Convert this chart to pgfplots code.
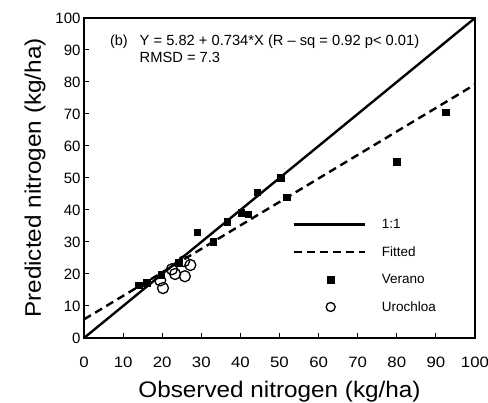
\documentclass[border=0pt]{standalone}
\usepackage{fontspec}
\setmainfont{Liberation Sans}
\newfontfamily\xtickfont{Liberation Sans}[FakeStretch=1.12]
\newfontfamily\labfont{Liberation Sans}[FakeStretch=1.08]
\usepackage{pgfplots}
\pgfplotsset{compat=1.18}
\pgfplotsset{
  lineleg/.style={legend image code/.code={\draw[##1] (0pt,0pt) -- (71pt,0pt);}},
  markleg/.style={legend image code/.code={\draw[##1] plot coordinates {(37pt,0pt)};}},
  circleg/.style={legend image code/.code={\draw[##1, mark size=4.5pt] plot coordinates {(37pt,0pt)};}},
}
\begin{document}
\begin{tikzpicture}
\begin{axis}[
  scale only axis,
  width=391pt, height=320pt,
  xmin=0, xmax=100, ymin=0, ymax=100,
  xtick={0,10,...,100}, ytick={0,10,...,100},
  tick align=inside, major tick length=5pt,
  xtick pos=bottom, ytick pos=left,
  axis line style={line width=1.1pt},
  major tick style={line width=1pt, black},
  /pgf/number format/assume math mode=true,
  xticklabel style={font=\xtickfont\fontsize{15}{18}\selectfont, yshift=-15pt},
  yticklabel style={font=\fontsize{15}{18}\selectfont},
  xlabel={Observed nitrogen (kg/ha)},
  ylabel={Predicted nitrogen (kg/ha)},
  label style={font=\labfont\fontsize{22.5}{26}\selectfont},
  xlabel style={yshift=-7pt},
  ylabel style={yshift=3pt},
  legend cell align=left,
  legend style={at={(axis cs:52.5,38.5)}, anchor=north west, draw=none, fill=none,
    font=\fontsize{13.5}{15}\selectfont, row sep=12.5pt,
    /tikz/every odd column/.append style={column sep=14pt}},
  clip=false,
]
\addplot[black, line width=2.4pt, lineleg]
  coordinates {(0,0) (100,100)};
\addlegendentry{1:1}
\addplot[black, line width=2.4pt, dash pattern=on 8pt off 5pt, lineleg]
  coordinates {(0,5.82) (100,79.22)};
\addlegendentry{Fitted}
\addplot[only marks, mark=square*, mark size=3.3pt, black, markleg]
  coordinates {
  (14,16.5) (16,17.3) (19.7,19.8) (24.2,23.5) (29,33) (33,30)
  (36.6,36.3) (40.2,39.2) (42,38.7) (44.3,45.5) (50.3,50) (51.8,44)
  (80,55) (92.5,70.5)};
\addlegendentry{Verano}
\addplot[only marks, mark=o, mark size=5.5pt, black, mark options={line width=1.3pt}, circleg]
  coordinates {
  (20.2,15.6) (19.5,18) (22.5,21.5) (23.3,20) (25.8,19.3) (27.2,22.8) (25.6,24)};
\addlegendentry{Urochloa}
\node[anchor=west, font=\fontsize{14.5}{16}\selectfont, inner sep=0pt] at (axis cs:6.6,92.5) {(b)};
\node[anchor=west, font=\fontsize{14.7}{16}\selectfont, inner sep=0pt] at (axis cs:14.2,92.5) {Y = 5.82 + 0.734*X (R -- sq = 0.92 p< 0.01)};
\node[anchor=west, font=\fontsize{14.7}{16}\selectfont, inner sep=0pt] at (axis cs:14.2,87.6) {RMSD = 7.3};
\end{axis}
\pgfresetboundingbox
\path[use as bounding box] ([shift={(-84pt,-65pt)}]current axis.south west) rectangle ([shift={(13pt,18pt)}]current axis.north east);
\end{tikzpicture}
\end{document}
